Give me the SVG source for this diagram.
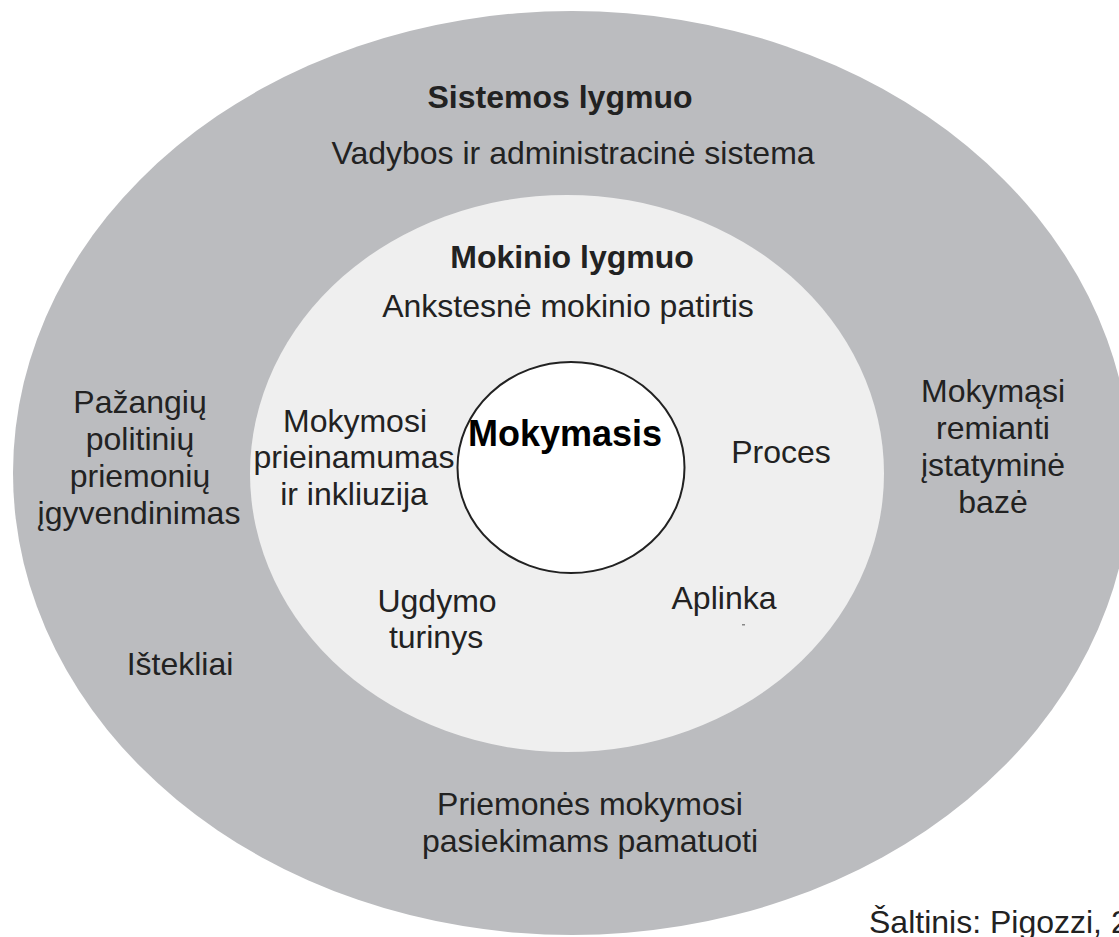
<svg xmlns="http://www.w3.org/2000/svg" width="1119" height="937" viewBox="0 0 1119 937">
<style>
text{font-family:"Liberation Sans",Arial,sans-serif;fill:#222;text-anchor:middle;font-size:32px}
.b{font-weight:bold}
</style>
<rect width="1119" height="937" fill="#ffffff"/>
<g id="system-level">
<ellipse cx="572" cy="473" rx="559" ry="462" fill="#bbbcbf"/>
<text class="b" x="560" y="108">Sistemos lygmuo</text>
<text x="573" y="164">Vadybos ir administracinė sistema</text>
<text x="140" y="413">Pažangių</text>
<text x="140" y="450">politinių</text>
<text x="140" y="487">priemonių</text>
<text x="139" y="524">įgyvendinimas</text>
<text x="180" y="675">Ištekliai</text>
<text x="993" y="402">Mokymąsi</text>
<text x="993" y="439">remianti</text>
<text x="993" y="476">įstatyminė</text>
<text x="993" y="513">bazė</text>
<text x="590" y="815">Priemonės mokymosi</text>
<text x="590" y="852">pasiekimams pamatuoti</text>
</g>
<g id="learner-level">
<ellipse cx="567" cy="473.5" rx="317" ry="278.5" fill="#efefef"/>
<text class="b" x="572" y="268">Mokinio lygmuo</text>
<text x="568" y="317">Ankstesnė mokinio patirtis</text>
<text x="355" y="432">Mokymosi</text>
<text x="354" y="468">prieinamumas</text>
<text x="354" y="505">ir inkliuzija</text>
<text x="781" y="463">Proces</text>
<text x="437" y="612">Ugdymo</text>
<text x="436" y="648">turinys</text>
<text x="724" y="609">Aplinka</text>
<rect x="742" y="624" width="3" height="1.5" fill="#888"/>
</g>
<g id="learning">
<ellipse cx="571" cy="467.5" rx="113.5" ry="105.5" fill="#ffffff" stroke="#222" stroke-width="2"/>
<text class="b" x="565" y="446" style="font-size:36px;fill:#000">Mokymasis</text>
</g>
<g id="connectors"/>
<g id="source">
<text x="869" y="933" style="text-anchor:start">Šaltinis: Pigozzi, 2</text>
</g>
</svg>
